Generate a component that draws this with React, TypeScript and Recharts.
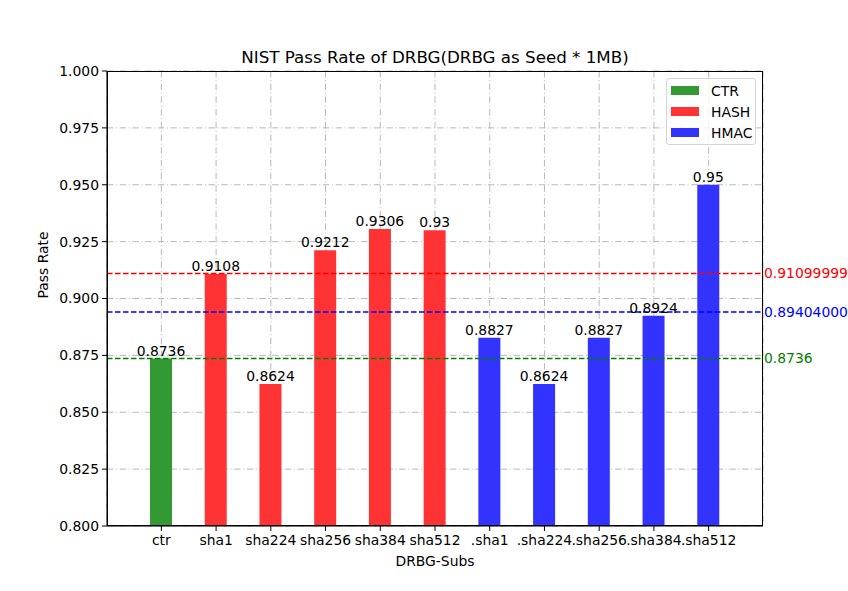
import {
  Bar,
  BarChart,
  CartesianGrid,
  Cell,
  LabelList,
  ReferenceLine,
  XAxis,
  YAxis,
} from "recharts";

const subs = ["ctr", "sha1", "sha224", "sha256", "sha384", "sha512", ".sha1", ".sha224", ".sha256", ".sha384", ".sha512"];
const groups = ["CTR", "HASH", "HASH", "HASH", "HASH", "HASH", "HMAC", "HMAC", "HMAC", "HMAC", "HMAC"];
const passRates = [0.8736, 0.9108, 0.8624, 0.9212, 0.9306, 0.93, 0.8827, 0.8624, 0.8827, 0.8924, 0.95];
const yTicks = [0.8, 0.825, 0.85, 0.875, 0.9, 0.925, 0.95, 0.975, 1.0];
const groupNames = ["CTR", "HASH", "HMAC"];
const groupColors: Record<string, string> = { CTR: "#339933", HASH: "#ff3333", HMAC: "#3333ff" };
// mean lines drawn across the plot
const meanValues = [0.91099999, 0.89404, 0.8736];
const meanLabels = ["0.91099999", "0.89404000", "0.8736"];
const meanColors = ["#ff0000", "#0000ff", "#008000"];

const data = subs.map((name, i) => ({ name, group: groups[i], rate: passRates[i] }));

const FONT = "DejaVu Sans, sans-serif";
const FS = 13.9;

function LegendBox() {
  return (
    <div
      style={{
        position: "absolute",
        left: 666,
        top: 78,
        width: 88,
        border: "1px solid #d5d5d5",
        borderRadius: 3,
        background: "rgba(255,255,255,0.8)",
        padding: "1px 0 1px 0",
        fontFamily: FONT,
        fontSize: FS,
        zIndex: 2,
      }}
    >
      {groupNames.map((g) => (
        <div key={g} style={{ display: "flex", alignItems: "center", height: 21 }}>
          <span style={{ width: 28, height: 9, background: groupColors[g], marginLeft: 4, marginRight: 12 }} />
          <span>{g}</span>
        </div>
      ))}
    </div>
  );
}

function App() {
  return (
    <div style={{ position: "absolute", left: 0, top: 0, width: 848, height: 591, background: "#fff" }}>
      <div
        style={{
          position: "absolute",
          top: 47,
          left: 107,
          width: 656,
          textAlign: "center",
          fontFamily: FONT,
          fontSize: 16.7,
        }}
      >
        NIST Pass Rate of DRBG(DRBG as Seed * 1MB)
      </div>
      <BarChart
        width={848}
        height={591}
        data={data}
        margin={{ top: 71, right: 85, bottom: 0, left: 0 }}
        style={{ fontFamily: FONT }}
      >
        <XAxis
          dataKey="name"
          height={65}
          padding={{ left: 27, right: 27 }}
          tick={{ fill: "#000", fontSize: FS }}
          tickLine={{ stroke: "#000" }}
          axisLine={{ stroke: "#000" }}
          tickSize={5}
          tickMargin={4}
          interval={0}
          label={{ value: "DRBG-Subs", position: "insideBottom", offset: 25, fill: "#000", fontSize: FS }}
        />
        <YAxis
          width={107}
          type="number"
          domain={[0.8, 1.0]}
          ticks={yTicks}
          allowDataOverflow
          tickFormatter={(v: number) => v.toFixed(3)}
          tick={{ fill: "#000", fontSize: FS }}
          tickLine={{ stroke: "#000" }}
          axisLine={{ stroke: "#000" }}
          tickSize={5}
          tickMargin={3}
          label={{ value: "Pass Rate", angle: -90, position: "insideLeft", offset: 43, fill: "#000", fontSize: FS }}
        />
        <Bar dataKey="rate" barSize={22} isAnimationActive={false}>
          {data.map((d) => (
            <Cell key={d.name} fill={groupColors[d.group]} />
          ))}
          <LabelList dataKey="rate" position="top" offset={3} fill="#000" fontSize={FS} />
        </Bar>
        <CartesianGrid stroke="#b0b0b0" strokeWidth={0.9} strokeDasharray="6.5 2.6 1 2.6" />
        {meanValues.map((v, i) => (
          <ReferenceLine
            key={meanLabels[i]}
            y={v}
            stroke={meanColors[i]}
            strokeWidth={1.5}
            strokeDasharray="5.5 2.5"
            label={{ value: meanLabels[i], position: "right", fill: meanColors[i], fontSize: FS, offset: 1 }}
          />
        ))}
      </BarChart>
      {/* axes frame (top and right spines) */}
      <div
        style={{
          position: "absolute",
          left: 107,
          top: 70.5,
          width: 656,
          height: 455,
          border: "1px solid #000",
          boxSizing: "border-box",
          pointerEvents: "none",
        }}
      />
      <LegendBox />
    </div>
  );
}

export default App;
